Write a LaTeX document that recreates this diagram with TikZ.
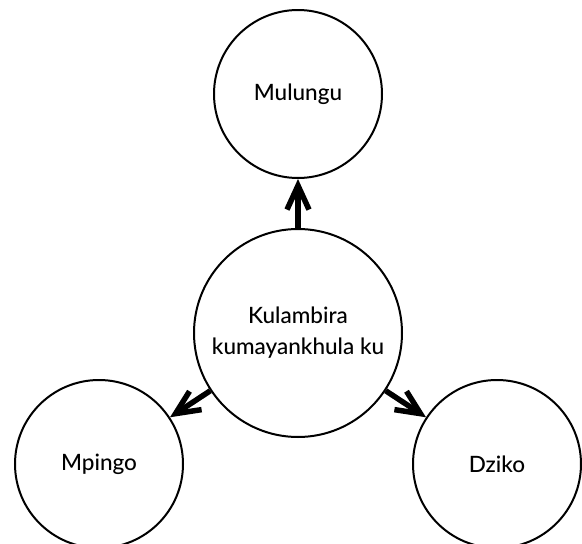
\documentclass[tikz,border=0pt]{standalone}
\usepackage{fontspec}
\setmainfont{Lato Medium}
\usepackage{tikz}
\usetikzlibrary{arrows.meta, positioning}

\begin{document}
\begin{tikzpicture}[x=1pt, y=-1pt, font=\fontsize{22.5}{31}\selectfont,
		bubble/.style={circle, draw, line width=2pt, minimum size=168pt, inner sep=0pt, align=center},
		bigbubble/.style={bubble, minimum size=208pt},
		link/.style={-{Straight Barb[length=24pt, width=22pt]}, line width=5.5pt}]
	\useasboundingbox (0,0) rectangle (582,544);
	% centre and outer circles
	\node[bigbubble] (pemphero) at (298,333) {Kulambira\\kumayankhula ku};
	\node[bubble] (mulungu) at (298,94) {Mulungu};
	\node[bubble] (mpingo) at (99,464) {Mpingo};
	\node[bubble] (dziko) at (497,464) {Dziko};
	% arrows
	\draw[link] (pemphero) -- (mulungu);
	\draw[link] (pemphero) -- (mpingo);
	\draw[link] (pemphero) -- (dziko);
\end{tikzpicture}
\end{document}
